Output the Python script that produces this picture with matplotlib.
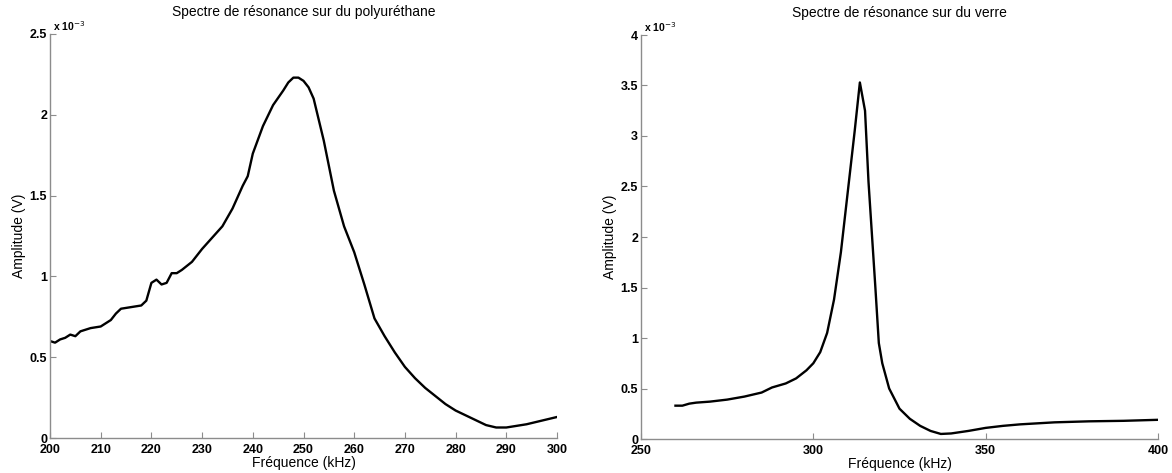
import matplotlib
matplotlib.use("Agg")
import matplotlib.pyplot as plt

# Left: polyurethane
freq_poly = [200, 201, 202, 203, 204, 205, 206, 208, 210, 211, 212, 213, 214, 216, 218, 219, 220, 221, 222,
             223, 224, 225, 226, 228, 230, 232, 234, 236, 238, 239, 240, 242, 244, 246, 247, 248, 249, 250,
             251, 252, 254, 256, 258, 260, 262, 264, 266, 268, 270, 272, 274, 276, 278, 280, 282, 284, 286,
             288, 290, 292, 294, 296, 298, 300]
amp_poly = [0.60, 0.59, 0.61, 0.62, 0.64, 0.63, 0.66, 0.68, 0.69, 0.71, 0.73, 0.77, 0.80, 0.81, 0.82, 0.85,
            0.96, 0.98, 0.95, 0.96, 1.02, 1.02, 1.04, 1.09, 1.17, 1.24, 1.31, 1.42, 1.56, 1.62, 1.76, 1.93,
            2.06, 2.15, 2.20, 2.23, 2.23, 2.21, 2.17, 2.10, 1.84, 1.53, 1.31, 1.15, 0.95, 0.74, 0.63, 0.53,
            0.44, 0.37, 0.31, 0.26, 0.21, 0.17, 0.14, 0.11, 0.08, 0.065, 0.065, 0.075, 0.085, 0.10, 0.115, 0.13]

# Right: glass
freq_verre = [260, 262, 264, 266, 270, 275, 280, 285, 288, 290, 292, 295, 298, 300, 302, 304, 306, 308,
              310, 312, 313.5, 315, 316, 318, 319, 320, 322, 325, 328, 331, 334, 337, 340, 345, 350, 355,
              360, 370, 380, 390, 400]
amp_verre = [0.33, 0.33, 0.35, 0.36, 0.37, 0.39, 0.42, 0.46, 0.51, 0.53, 0.55, 0.60, 0.68, 0.75, 0.86, 1.05,
             1.38, 1.85, 2.45, 3.05, 3.53, 3.25, 2.55, 1.50, 0.95, 0.75, 0.50, 0.30, 0.20, 0.13, 0.08, 0.05,
             0.055, 0.08, 0.11, 0.13, 0.145, 0.165, 0.175, 0.18, 0.19]

xticks_poly = [200, 210, 220, 230, 240, 250, 260, 270, 280, 290, 300]
yticks_poly = [0, 0.5, 1, 1.5, 2, 2.5]
xticks_verre = [250, 300, 350, 400]
yticks_verre = [0, 0.5, 1, 1.5, 2, 2.5, 3, 3.5, 4]

plt.rcParams['font.family'] = ['Liberation Sans', 'DejaVu Sans']

fig = plt.figure(figsize=(11.72, 4.73), dpi=100)
W, H = 1172, 473
ax1 = fig.add_axes([50 / W, (H - 438) / H, 507 / W, 404 / H])
ax2 = fig.add_axes([641 / W, (H - 439) / H, 517 / W, 404 / H])

def style(ax, xt, yt, xlim, ylim, title):
    for s in ['top', 'right']:
        ax.spines[s].set_visible(False)
    for s in ['left', 'bottom']:
        ax.spines[s].set_color('#8c8c8c')
        ax.spines[s].set_linewidth(1.0)
    ax.set_xlim(*xlim)
    ax.set_ylim(*ylim)
    ax.set_xticks(xt)
    ax.set_yticks(yt)
    ax.set_xticklabels([f"{v:g}" for v in xt], fontsize=9, fontweight='bold')
    ax.set_yticklabels([f"{v:g}" for v in yt], fontsize=9, fontweight='bold')
    ax.tick_params(direction='in', length=4, color='#8c8c8c')
    ax.tick_params(axis='x', pad=4.5)
    ax.tick_params(axis='y', pad=2)
    ax.set_xlabel('Fréquence (kHz)', fontsize=10, labelpad=0)
    ax.set_ylabel('Amplitude (V)', fontsize=10, labelpad=3)
    ax.set_title(title, fontsize=10, pad=13)
    ax.text(0.005, 1.003, r'x 10$^{-3}$', transform=ax.transAxes, fontsize=7.5,
            ha='left', va='bottom', fontweight='bold')

ax1.plot(freq_poly, amp_poly, color='black', lw=1.7)
style(ax1, xticks_poly, yticks_poly, (200, 300), (0, 2.5), 'Spectre de résonance sur du polyuréthane')

ax2.plot(freq_verre, amp_verre, color='black', lw=1.7)
style(ax2, xticks_verre, yticks_verre, (250, 400), (0, 4), 'Spectre de résonance sur du verre')

fig.savefig('out.png', dpi=100)
